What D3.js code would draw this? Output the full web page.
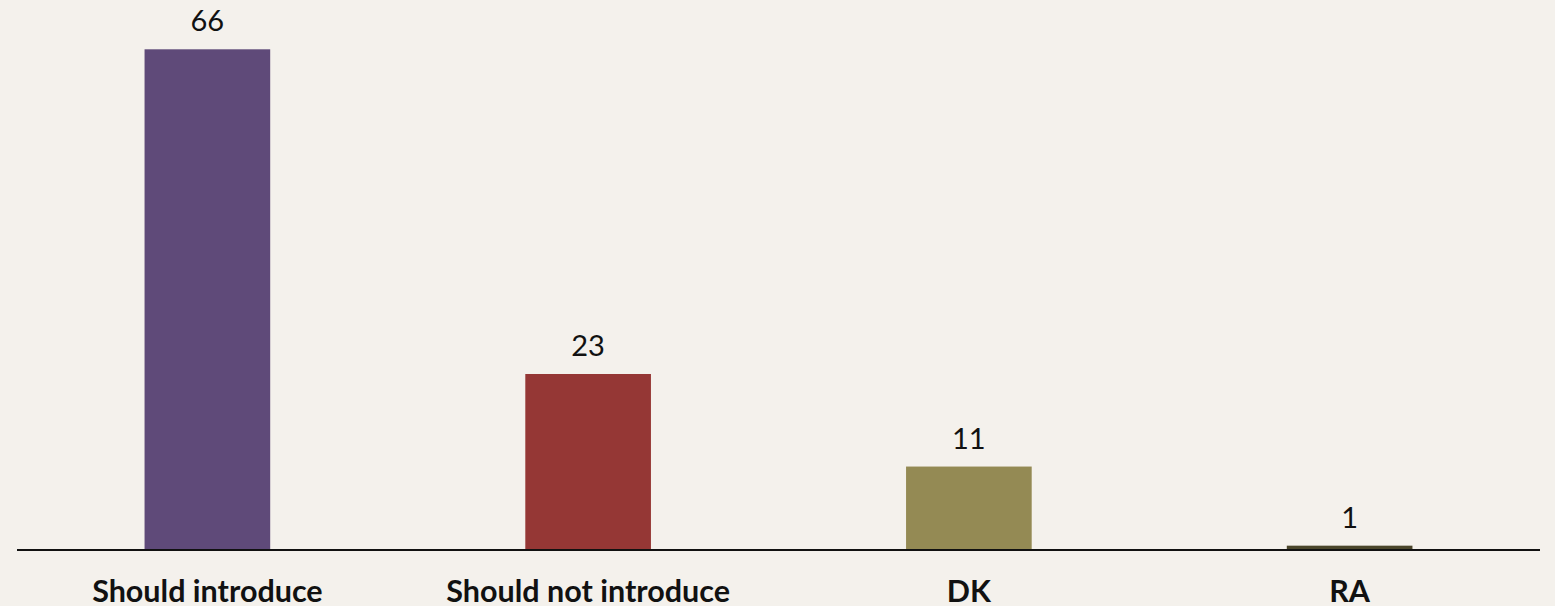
<!DOCTYPE html>
<html>
<head>
<meta charset="utf-8">
<script src="https://cdn.jsdelivr.net/npm/d3@7"></script>
<style>
  html, body { margin: 0; padding: 0; background: #F4F1EC; }
  svg { display: block; }
</style>
</head>
<body>
<div id="chart"></div>
<script>
const categories = ["Should introduce", "Should not introduce", "DK", "RA"];
const values = [66, 23.2, 11, 0.57];
const colors = ["#5F4A79", "#953735", "#948A54", "#4A452A"];

const W = 1555, H = 606;
const axisLeft = 17, axisRight = 1540, axisY = 550, topY = 49.3;

const svg = d3.select("#chart").append("svg")
  .attr("width", W).attr("height", H);

svg.append("rect").attr("width", W).attr("height", H).attr("fill", "#F4F1EC");

const x = d3.scaleBand().domain(categories).range([axisLeft, axisRight]).paddingInner(0.67).paddingOuter(0.335);
const y = d3.scaleLinear().domain([0, 66]).range([axisY, topY]);

const data = categories.map((c, i) => ({ c, v: values[i], col: colors[i] }));

svg.selectAll("rect.bar").data(data).enter().append("rect")
  .attr("class", "bar")
  .attr("x", d => x(d.c))
  .attr("width", x.bandwidth())
  .attr("y", d => y(d.v))
  .attr("height", d => y(0) - y(d.v))
  .attr("fill", d => d.col);

svg.selectAll("text.val").data(data).enter().append("text")
  .attr("class", "val")
  .attr("x", d => x(d.c) + x.bandwidth() / 2)
  .attr("y", d => y(d.v) - 18)
  .attr("text-anchor", "middle")
  .attr("font-family", "Lato, 'Open Sans', sans-serif")
  .attr("font-size", 29)
  .attr("fill", "#111")
  .text(d => Math.round(d.v));

const xAxis = d3.axisBottom(x).tickSize(0).tickPadding(0);
const gx = svg.append("g").attr("transform", `translate(0,${axisY})`).call(xAxis);
gx.select(".domain").attr("stroke", "#111").attr("stroke-width", 2)
  .attr("d", `M${axisLeft},0H${axisRight}`);
gx.selectAll(".tick text")
  .attr("dy", 0).attr("y", 51.5)
  .attr("font-family", "Lato, 'Open Sans', sans-serif")
  .attr("font-weight", "bold")
  .attr("font-size", 30.5)
  .attr("fill", "#111");
</script>
</body>
</html>
